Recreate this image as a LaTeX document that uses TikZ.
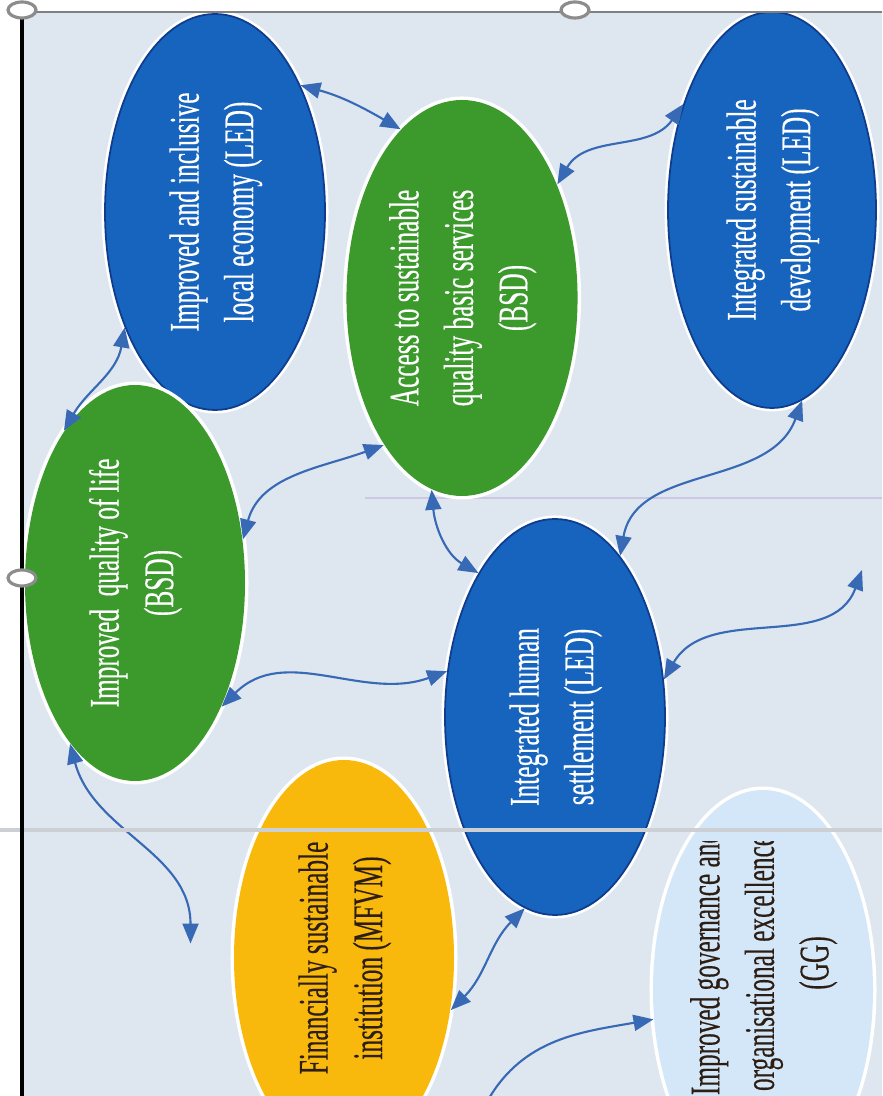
\documentclass[tikz,border=0pt]{standalone}
\usepackage{fontspec}
\usepackage{tikz}
\usetikzlibrary{shapes.geometric,arrows.meta}
\newfontfamily\goalfont[FakeStretch=0.6,FakeBold=0.3]{Liberation Serif}
\definecolor{panel}{RGB}{222,230,240}
\definecolor{ledblue}{RGB}{22,100,190}
\definecolor{ledrim}{RGB}{15,60,140}
\definecolor{bsdgreen}{RGB}{60,153,44}
\definecolor{mfvmgold}{RGB}{248,184,12}
\definecolor{ggpale}{RGB}{212,231,248}
\definecolor{inkdark}{RGB}{45,30,20}
\definecolor{arrowblue}{RGB}{55,105,180}
\definecolor{handlegray}{RGB}{140,140,140}
\definecolor{seamgray}{RGB}{204,207,212}
\definecolor{lavender}{RGB}{206,199,228}
\newcommand{\uptext}[2][0mm] % [decalage]{lignes} texte tourne
{\rotatebox{90}{\begin{tabular}{@{}c@{\hspace{#1}}}#2\end{tabular}}}
\newcommand{\handle}[2] % {x}{y}
{
	\draw [handlegray, fill=white, line width=0.9pt] (#1,#2) ellipse (1.4mm and 0.8mm);
}
\begin{document}
\begin{tikzpicture}[x=0.1mm, y=0.1mm,
		goal/.style={ellipse, preaction={draw=white, line width=2pt}, inner sep=0pt, minimum width=22mm, minimum height=39.6mm, font={\goalfont\fontsize{12}{15.5}\selectfont}},
		led/.style={goal, fill=ledblue, draw=ledrim, line width=0.5pt, text=white},
		bsd/.style={goal, fill=bsdgreen, text=white},
		link/.style={<->, draw=arrowblue, line width=0.6pt},
		>={Triangle[length=2mm, width=1.6mm]}]
		
		\useasboundingbox (0,0) rectangle (882,1096);
		\clip (0,0) rectangle (882,1096);
		\fill [white] (0,0) rectangle (882,1096);
		\fill [panel] (22,0) rectangle (882,1084);
		\draw [lavender, line width=0.3pt] (365,598) -- (882,598);
		
		\node [led] (economy) at (215,884) {\uptext{Improved and inclusive\\local economy (LED)}};
		\node [bsd, minimum width=21.4mm] (services) at (462,798) {\uptext{Access to sustainable\\quality basic services\\(BSD)}};
		\node [led, minimum width=20.8mm] (development) at (772,886) {\uptext{Integrated sustainable\\development (LED)}};
		\node [bsd] (life) at (135,513) {\uptext{Improved~ quality of life\\(BSD)}};
		\node [led] (settlement) at (555,379) {\uptext{Integrated human\\settlement (LED)}};
		\node [goal, fill=mfvmgold, text=inkdark] (finance) at (344,138) {\uptext{Financially sustainable\\institution (MFVM)}};
		\node [goal, fill=ggpale, minimum height=40mm] (governance) at (763,106) {};
		\begin{scope}
			\clip (600,0) rectangle (882,254);
			\node [font={\goalfont\fontsize{12}{15.5}\selectfont}, text=inkdark] (ggtext) at (763,133) {\uptext{Improved governance and\\organisational excellence\\(GG)}};
		\end{scope}
		
		\coordinate (hend) at (862,526);
		\coordinate (kstart) at (488,-4);
		
		\draw [link] (life.115) to [out=60, in=260] (economy.232);
		\draw [link] (economy.56) to [out=-15, in=150] (services.110);
		\draw [link] (services.50) to [out=60, in=235] (development.130);
		\draw [link] (life.22) to [out=75, in=200] (services.242);
		\draw [link] (services.261) to [out=-85, in=150] (settlement.118);
		\draw [link] (settlement.68) to [out=80, in=250] (development.-81);
		\draw [link] (life.-55) to [out=45, in=200] (settlement.157);
		\draw [link] (settlement.19) to [out=60, in=250] (hend);
		\draw [link] (life.248) to [out=-75, in=90] ([xshift=-4.5mm, yshift=-2.5mm]finance.160);
		\draw [link] (finance.-26) to [out=45, in=225] (settlement.261);
		\draw [link, <-] (governance.195) to [out=190, in=60] (kstart);
		
		\draw [seamgray, line width=0.45mm] (0,266) -- (882,266);
		\draw [gray, line width=0.5pt] (22,1084) -- (882,1084);
		\draw [black, line width=1.2pt] (22,0) -- (22,1086);
		\handle{22}{1086}
		\handle{575}{1086}
		\handle{22}{518}
		
\end{tikzpicture}
\end{document}
